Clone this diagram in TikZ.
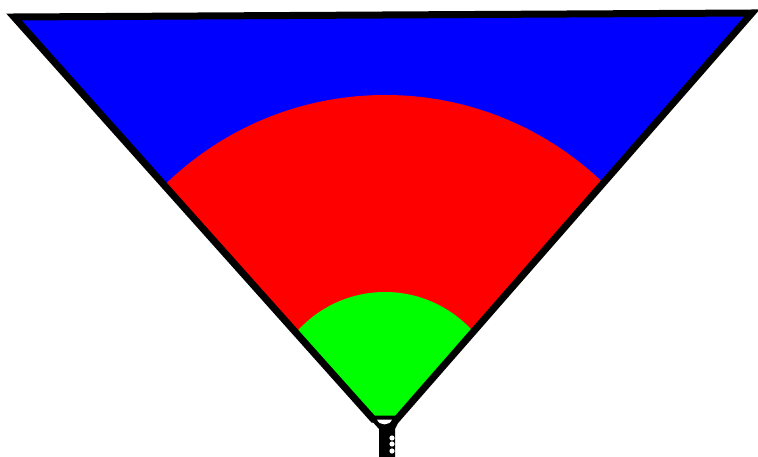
\documentclass[tikz,border=0pt]{standalone}
\begin{document}
\begin{tikzpicture}[x=1pt,y=-1pt]
\useasboundingbox (0,0) rectangle (758,457);
\coordinate (A) at (14,17);
\coordinate (B) at (752,13);
\coordinate (O) at (385,410);
\def\cone{(A) -- (B) -- (397,419) -- (373,419) -- cycle}
% stem
\fill[black] (370,419) -- (400,419) -- (395,429) -- (395,457) -- (379,457) -- (379,429) -- cycle;
% cone fill
\fill[blue] \cone;
\begin{scope}
\clip \cone;
\fill[red] (O) circle (315);
\fill[green] (O) circle (118);
\end{scope}
\draw[line width=7pt, line join=miter] \cone;
% lamp details
\fill[white] (377,419.5) .. controls (379,426) and (390,426) .. (392,419.5) -- cycle;
\foreach \yy in {438,444,451} \fill[white] (392,\yy) circle (2.6);
\end{tikzpicture}
\end{document}
